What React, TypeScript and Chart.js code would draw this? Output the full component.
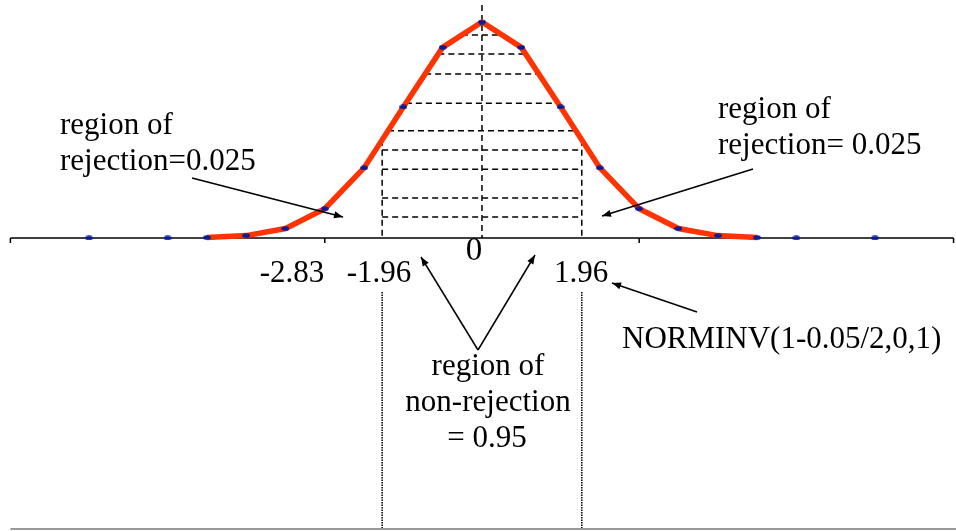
import React, { useEffect, useRef } from 'react';
import { Chart, registerables } from 'chart.js';

Chart.register(...registerables);

// Standard normal density sampled at the plotted z values
const zValues = [-5, -4, -3.5, -3, -2.5, -2, -1.5, -1, -0.5, 0, 0.5, 1, 1.5, 2, 2.5, 3, 3.5, 4, 5];
const density = [0.0, 0.0001, 0.0009, 0.0044, 0.0175, 0.054, 0.1295, 0.242, 0.3521, 0.3989, 0.3521, 0.242, 0.1295, 0.054, 0.0175, 0.0044, 0.0009, 0.0001, 0.0];

// Stretch of the curve drawn in the thick red stroke
const curveFrom = -3.5;
const curveTo = 3.5;

// Hatched non-rejection band: edge and the heights of its dashed rules
const hatchEdge = 1.27;
const hatchLevels = [0.375, 0.34, 0.303, 0.249, 0.198, 0.1625, 0.127, 0.074, 0.039];

// Baseline tick marks
const axisTicks = [-6, -2, 2, 6];

// Cut-off labels along the baseline
const cutoffLabels = ['-2.83', '-1.96', '1.96'];
const centerLabel = '0';

const leftNote = ['region of', 'rejection=0.025'];
const rightNote = ['region of', 'rejection= 0.025'];
const middleNote = ['region of', 'non-rejection', '= 0.95'];
const formulaNote = 'NORMINV(1-0.05/2,0,1)';

const FONT = '"Liberation Serif", "Times New Roman", serif';

const redX = zValues.filter((z) => z >= curveFrom && z <= curveTo);
const redY = zValues.map((z, i) => ({ z, d: density[i] })).filter((p) => p.z >= curveFrom && p.z <= curveTo).map((p) => p.d);

function curveAt(x: number): number {
  for (let i = 0; i < redX.length - 1; i++) {
    if (x >= redX[i] && x <= redX[i + 1]) {
      const t = (x - redX[i]) / (redX[i + 1] - redX[i]);
      return redY[i] + t * (redY[i + 1] - redY[i]);
    }
  }
  return 0;
}

function crossings(level: number): [number, number] {
  let left = -Infinity;
  let right = Infinity;
  for (let i = 0; i < redX.length - 1; i++) {
    const y0 = redY[i];
    const y1 = redY[i + 1];
    if (y0 !== y1 && (y0 - level) * (y1 - level) <= 0) {
      const x = redX[i] + ((level - y0) / (y1 - y0)) * (redX[i + 1] - redX[i]);
      if (x < 0) left = x;
      else right = x;
    }
  }
  return [left, right];
}

function arrow(ctx: CanvasRenderingContext2D, x1: number, y1: number, x2: number, y2: number) {
  ctx.beginPath();
  ctx.moveTo(x1, y1);
  ctx.lineTo(x2, y2);
  ctx.stroke();
  const a = Math.atan2(y2 - y1, x2 - x1);
  const L = 9;
  const W = 3.5;
  const c = Math.cos(a);
  const s = Math.sin(a);
  ctx.beginPath();
  ctx.moveTo(x2, y2);
  ctx.lineTo(x2 - L * c + W * s, y2 - L * s - W * c);
  ctx.lineTo(x2 - L * c - W * s, y2 - L * s + W * c);
  ctx.closePath();
  ctx.fill();
}

const diagramPlugin = {
  id: 'diagram',
  beforeDatasetsDraw(chart: Chart) {
    const { ctx, chartArea } = chart;
    const xs = chart.scales.x;
    const ys = chart.scales.y;
    const px = (v: number) => xs.getPixelForValue(v);
    const py = (v: number) => ys.getPixelForValue(v);
    ctx.save();

    // dashed hatching of the central area
    ctx.strokeStyle = '#000';
    ctx.lineWidth = 1.5;
    ctx.setLineDash([6, 4]);
    hatchLevels.forEach((lv) => {
      const [l, r] = crossings(lv);
      const a = Math.max(l, -hatchEdge);
      const b = Math.min(r, hatchEdge);
      ctx.beginPath();
      ctx.moveTo(px(a), py(lv));
      ctx.lineTo(px(b), py(lv));
      ctx.stroke();
    });
    [-hatchEdge, hatchEdge].forEach((e) => {
      ctx.beginPath();
      ctx.moveTo(px(e), py(curveAt(e)));
      ctx.lineTo(px(e), py(0));
      ctx.stroke();
    });
    ctx.beginPath();
    ctx.moveTo(px(0), chartArea.top + 5);
    ctx.lineTo(px(0), py(0));
    ctx.stroke();

    // baseline with tick marks
    ctx.setLineDash([]);
    ctx.lineWidth = 1.5;
    ctx.beginPath();
    ctx.moveTo(px(axisTicks[0]), py(0));
    ctx.lineTo(px(axisTicks[axisTicks.length - 1]), py(0));
    axisTicks.forEach((t) => {
      ctx.moveTo(px(t), py(0));
      ctx.lineTo(px(t), py(0) + 5);
    });
    ctx.stroke();

    // dotted guides below the axis
    ctx.lineWidth = 1.5;
    ctx.strokeStyle = '#000';
    ctx.setLineDash([1.5, 1]);
    [-hatchEdge, hatchEdge].forEach((e) => {
      ctx.beginPath();
      ctx.moveTo(px(e), 292);
      ctx.lineTo(px(e), chartArea.bottom - 3);
      ctx.stroke();
    });

    // bottom rule
    ctx.setLineDash([]);
    ctx.strokeStyle = '#9a9a9a';
    ctx.lineWidth = 2;
    ctx.beginPath();
    ctx.moveTo(px(axisTicks[0]), chartArea.bottom - 2);
    ctx.lineTo(chartArea.right, chartArea.bottom - 2);
    ctx.stroke();
    ctx.restore();
  },
  afterDatasetsDraw(chart: Chart) {
    const { ctx } = chart;
    ctx.save();
    ctx.fillStyle = '#000';
    ctx.strokeStyle = '#000';
    ctx.textBaseline = 'alphabetic';
    ctx.font = `31px ${FONT}`;

    ctx.textAlign = 'left';
    ctx.fillText(leftNote[0], 60, 134);
    ctx.fillText(leftNote[1], 60, 170);
    ctx.fillText(rightNote[0], 718, 118);
    ctx.fillText(rightNote[1], 718, 154);
    ctx.fillText(formulaNote, 622, 348);

    ctx.textAlign = 'center';
    ctx.fillText(cutoffLabels[0], 292, 282);
    ctx.fillText(cutoffLabels[1], 379, 282);
    ctx.fillText(cutoffLabels[2], 581, 282);
    ctx.fillText(middleNote[0], 488, 375);
    ctx.fillText(middleNote[1], 488, 411);
    ctx.fillText(middleNote[2], 487, 447);

    ctx.font = `33px ${FONT}`;
    ctx.fillText(centerLabel, 474, 260);

    ctx.lineWidth = 1.5;
    arrow(ctx, 192, 178, 343, 217);
    arrow(ctx, 753, 169, 602, 216);
    arrow(ctx, 478, 350, 421, 257);
    arrow(ctx, 478, 350, 535, 255);
    arrow(ctx, 697, 312, 612, 283);
    ctx.restore();
  },
};

export default function App() {
  const ref = useRef<HTMLCanvasElement>(null);

  useEffect(() => {
    if (!ref.current) return;
    const marker = document.createElement('canvas');
    marker.width = 8;
    marker.height = 5;
    const mctx = marker.getContext('2d')!;
    mctx.fillStyle = '#0a1a99';
    mctx.beginPath();
    mctx.ellipse(4, 2.5, 3.8, 2.3, 0, 0, Math.PI * 2);
    mctx.fill();

    const all = zValues.map((z, i) => ({ x: z, y: density[i] }));
    const red = all.filter((p) => p.x >= curveFrom && p.x <= curveTo);

    const chart = new Chart(ref.current, {
      type: 'scatter',
      data: {
        datasets: [
          {
            label: 'markers',
            data: all,
            showLine: false,
            pointStyle: marker as any,
            pointRadius: 3,
            order: 0,
          },
          {
            label: 'density',
            data: red,
            showLine: true,
            borderColor: '#ff3300',
            borderWidth: 5.5,
            pointRadius: 0,
            order: 1,
          },
          {
            label: 'tails',
            data: all,
            showLine: true,
            borderColor: '#444',
            borderWidth: 1.5,
            pointRadius: 0,
            order: 2,
          },
        ],
      },
      options: {
        animation: false,
        responsive: false,
        devicePixelRatio: 1,
        layout: { padding: 0, autoPadding: false },
        plugins: { legend: { display: false }, tooltip: { enabled: false } },
        scales: {
          x: { type: 'linear', min: -6.132, max: 6.031, display: false },
          y: { type: 'linear', min: -0.5412, max: 0.4396, display: false },
        },
      },
      plugins: [diagramPlugin],
    });
    return () => chart.destroy();
  }, []);

  return (
    <div style={{ position: 'fixed', left: 0, top: 0, width: 956, height: 531, background: '#fff' }}>
      <canvas ref={ref} width={956} height={531} style={{ display: 'block' }} />
    </div>
  );
}
